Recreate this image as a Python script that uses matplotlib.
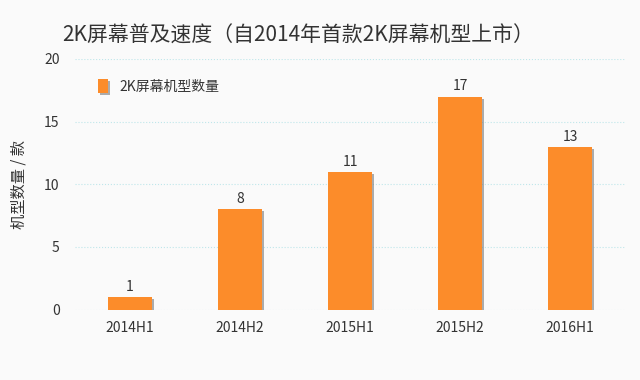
import matplotlib.pyplot as plt
import matplotlib.patheffects as pe

plt.rcParams['font.family'] = ['Noto Sans CJK SC', 'DejaVu Sans']

periods = ['2014H1', '2014H2', '2015H1', '2015H2', '2016H1']
counts = [1, 8, 11, 17, 13]
yticks = [0, 5, 10, 15, 20]

fig = plt.figure(figsize=(6.4, 3.8), dpi=100)
fig.patch.set_facecolor('#fafafa')
ax = fig.add_axes([0.117, 0.185, 0.86, 0.66])
ax.set_facecolor('#fafafa')

bars = ax.bar(periods, counts, width=0.4, color='#fc8c2a', zorder=3,
              label='2K屏幕机型数量')
for b in bars:
    b.set_path_effects([pe.SimplePatchShadow(offset=(1.5, -1.5), shadow_rgbFace='#777777', alpha=0.6),
                        pe.Normal()])

for i, v in enumerate(counts):
    ax.text(i, v + 0.25, str(v), ha='center', va='bottom', fontsize=10, color='#333333')

ax.set_ylim(0, 20)
ax.set_xlim(-0.5, 4.5)
ax.set_yticks(yticks)
ax.grid(axis='y', color='#bfe6ea', linestyle=':', linewidth=0.8, zorder=0)
for s in ax.spines.values():
    s.set_visible(False)
ax.tick_params(length=0, labelsize=10, colors='#333333')
ax.tick_params(axis='x', pad=8)
ax.tick_params(axis='y', pad=11)

ax.set_ylabel('机型数量 / 款', fontsize=11, color='#333333', labelpad=12)

ax.legend(loc='upper left', bbox_to_anchor=(0.02, 0.97), frameon=False, fontsize=10,
          handlelength=0.7, handleheight=1.2, labelcolor='#333333')

fig.text(0.097, 0.905, '2K屏幕普及速度（自2014年首款2K屏幕机型上市）', fontsize=15,
         color='#333333', ha='left', va='center', fontweight='medium')

fig.savefig('out.png', dpi=100, facecolor=fig.get_facecolor())
